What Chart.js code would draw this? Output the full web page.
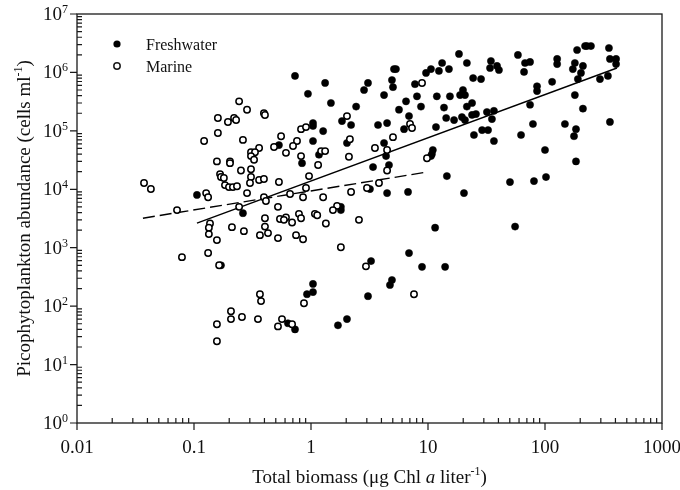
<!DOCTYPE html>
<html><head><meta charset="utf-8">
<script src="https://cdn.jsdelivr.net/npm/chart.js@4/dist/chart.umd.min.js"></script>
<style>html,body{margin:0;padding:0;background:#fff;}#wrap{width:680px;height:490px;}</style>
</head><body><div id="wrap"><canvas id="c" width="680" height="490"></canvas></div>
<script>
// ---- data ----
const freshX = [0.106,0.262,0.942,1.04,1.04,0.532,1.04,1.17,0.838,0.170,1.04,1.04,0.924,0.635,0.730,0.730,1.32,1.48,3.07,2.84,2.43,5.12,5.32,4.92,5.02,4.21,6.49,5.65,6.88,7.74,8.05,8.71,9.62,10.6,12.4,13.2,15.1,18.4,21.5,24.3,11.9,13.7,15.4,18.8,19.9,20.7,23.8,21.5,14.3,16.7,19.5,20.7,23.8,25.7,11.7,24.7,1.27,1.84,2.20,3.74,4.47,6.24,2.03,4.21,4.38,4.64,3.39,11.0,10.8,10.6,14.5,4.47,6.75,20.3,3.19,1.80,1.80,11.5,6.88,3.26,8.89,14.0,4.92,4.73,3.07,2.03,1.70,34.5,33.9,38.9,40.4,58.7,67.5,74.5,66.2,127,127,188,220,228,247,352,180,211,173,203,191,359,405,405,345,295,115,85.5,85.5,28.4,74.5,180,211,31.9,36.6,35.2,29.0,32.6,36.6,62.4,78.9,148,184,177,359,100,184,50.2,80.5,102,55.5];
const freshY = [8000,3900,430000,136000,121000,57000,67000,39000,28000,500,240,174,160,51,40,870000,660000,300000,660000,500000,260000,1140000,1140000,740000,560000,410000,320000,230000,179000,630000,390000,260000,980000,1140000,1060000,1450000,1140000,2070000,1450000,800000,390000,250000,390000,410000,500000,410000,300000,260000,166000,153000,172000,153000,187000,194000,116000,85000,99000,147000,126000,126000,136000,107000,62000,62000,37000,26000,24000,47000,40000,37000,16800,8600,9000,8600,10100,5000,4400,2200,810,590,470,470,280,230,148,60,47,1570000,1190000,1290000,1100000,1990000,1450000,1510000,1020000,1700000,1390000,2420000,2830000,2830000,2830000,2620000,1450000,1290000,1140000,980000,770000,1700000,1700000,1390000,870000,770000,690000,580000,480000,770000,280000,410000,240000,210000,220000,159000,103000,103000,67000,85000,131000,131000,107000,81000,142000,47000,30000,13300,13800,16200,2300];
const marineX = [0.243,0.160,0.195,0.220,0.229,0.160,0.122,0.157,0.203,0.203,0.167,0.170,0.180,0.184,0.199,0.215,0.233,0.0374,0.0428,0.127,0.132,0.0716,0.252,0.284,0.396,0.404,0.262,0.555,0.822,0.906,0.759,0.702,0.483,0.611,0.822,0.360,0.307,0.332,0.307,0.326,0.307,0.307,0.360,0.396,0.301,0.532,0.962,1.15,0.906,0.284,0.662,0.855,0.396,0.412,0.243,0.522,0.404,0.543,0.611,0.587,0.689,0.789,0.822,1.08,1.13,0.404,0.211,0.267,0.366,0.429,0.522,0.745,0.855,0.137,0.134,0.134,0.157,0.0789,0.132,0.164,0.366,0.374,0.871,0.207,0.207,0.257,0.352,0.157,0.565,0.522,0.689,0.157,8.89,2.03,7.02,7.30,5.02,2.15,1.22,1.32,2.11,3.52,4.47,9.80,4.47,3.81,3.01,2.20,1.27,1.67,1.54,1.34,2.57,1.80,2.95,7.59];
const marineY = [320000,166000,142000,166000,153000,92000,67000,30000,30000,28000,18200,16200,15600,11800,10900,10900,11300,12800,10100,8600,7300,4400,21000,230000,200000,187000,70000,81000,107000,116000,67000,55000,53000,42000,37000,51000,43000,43000,37000,32000,22000,16200,14400,15000,12800,13300,16800,26000,10500,8600,8300,7300,7300,6300,5000,5000,3200,3100,3300,3000,2700,3800,3200,3800,3600,2300,2250,1920,1640,1780,1460,1640,1400,2600,2200,1710,1350,690,810,500,160,122,112,82,60,65,60,49,60,45,49,25,660000,179000,131000,112000,78000,72000,45000,45000,36000,51000,47000,34000,21000,12800,10500,9000,7300,5200,4400,2600,3000,1020,480,160];
const solidX = [0.106, 412];
const solidY = [2630, 1190000];
const dashX = [0.0366, 9.8];
const dashY = [3200, 19700];
const xTickValues = [0.01, 0.1, 1, 10, 100, 1000];
const xTickLabels = ['0.01', '0.1', '1', '10', '100', '1000'];
const yTickValues = [1, 10, 100, 1000, 10000, 100000, 1000000, 10000000];
const yTickExps = ['0', '1', '2', '3', '4', '5', '6', '7'];
const legendLabels = ['Freshwater', 'Marine'];

const pts = (xs, ys) => xs.map((x, i) => ({x: x, y: ys[i]}));
const SERIF = '"Liberation Serif", "DejaVu Serif", serif';

function drawRich(ctx, parts, x, y, align) {
  let w = 0;
  parts.forEach(p => { ctx.font = p.font; p.w = ctx.measureText(p.t).width; w += p.w; });
  let cx = align === 'center' ? x - w / 2 : (align === 'right' ? x - w : x);
  ctx.textAlign = 'left';
  ctx.textBaseline = 'alphabetic';
  parts.forEach(p => { ctx.font = p.font; ctx.fillText(p.t, cx, y + (p.dy || 0)); cx += p.w; });
}

const axesPlugin = {
  id: 'axesPlugin',
  afterDraw(chart) {
    const ctx = chart.ctx, xs = chart.scales.x, ys = chart.scales.y, a = chart.chartArea;
    ctx.save();
    ctx.strokeStyle = '#1a1a1a';
    ctx.fillStyle = '#111';
    ctx.lineWidth = 1.3;
    ctx.strokeRect(a.left, a.top, a.right - a.left, a.bottom - a.top);
    ctx.lineWidth = 1.2;
    ctx.beginPath();
    xTickValues.forEach((v, i) => {
      const px = xs.getPixelForValue(v);
      ctx.moveTo(px, a.bottom); ctx.lineTo(px, a.bottom + 7);
      if (i < xTickValues.length - 1) {
        for (let k = 2; k <= 9; k++) {
          const mx = xs.getPixelForValue(v * k);
          ctx.moveTo(mx, a.bottom); ctx.lineTo(mx, a.bottom - 5);
        }
      }
    });
    yTickValues.forEach((v, i) => {
      const py = ys.getPixelForValue(v);
      ctx.moveTo(a.left - 7, py); ctx.lineTo(a.left, py);
      if (i < yTickValues.length - 1) {
        for (let k = 2; k <= 9; k++) {
          const my = ys.getPixelForValue(v * k);
          ctx.moveTo(a.left, my); ctx.lineTo(a.left + 5, my);
        }
      }
    });
    ctx.stroke();
    xTickValues.forEach((v, i) => {
      const px = xs.getPixelForValue(v);
      drawRich(ctx, [{t: xTickLabels[i], font: '19px ' + SERIF}], px, a.bottom + 30, 'center');
    });
    yTickValues.forEach((v, i) => {
      const py = ys.getPixelForValue(v);
      drawRich(ctx, [{t: '10', font: '19px ' + SERIF}, {t: yTickExps[i], font: '12px ' + SERIF, dy: -7}], a.left - 9, py + 6, 'right');
    });
    drawRich(ctx, [
      {t: 'Total biomass (\u03bcg Chl ', font: '19px ' + SERIF},
      {t: 'a', font: 'italic 19px ' + SERIF},
      {t: ' liter', font: '19px ' + SERIF},
      {t: '-1', font: '12px ' + SERIF, dy: -8},
      {t: ')', font: '19px ' + SERIF}
    ], (a.left + a.right) / 2, 483, 'center');
    ctx.save();
    ctx.translate(30, (a.top + a.bottom) / 2);
    ctx.rotate(-Math.PI / 2);
    drawRich(ctx, [
      {t: 'Picophytoplankton abundance (cells ml', font: '19px ' + SERIF},
      {t: '-1', font: '12px ' + SERIF, dy: -8},
      {t: ')', font: '19px ' + SERIF}
    ], 0, 0, 'center');
    ctx.restore();
    const lx = 117, ly = [44, 66];
    ctx.lineWidth = 1.5;
    ctx.beginPath(); ctx.arc(lx, ly[0], 3.6, 0, Math.PI * 2); ctx.fillStyle = '#000'; ctx.fill();
    ctx.beginPath(); ctx.arc(lx, ly[1], 3.2, 0, Math.PI * 2); ctx.fillStyle = '#fff'; ctx.fill(); ctx.stroke();
    ctx.fillStyle = '#111';
    drawRich(ctx, [{t: legendLabels[0], font: '16px ' + SERIF}], 146, ly[0] + 6, 'left');
    drawRich(ctx, [{t: legendLabels[1], font: '16px ' + SERIF}], 146, ly[1] + 6, 'left');
    ctx.restore();
  }
};

new Chart(document.getElementById('c'), {
  type: 'scatter',
  data: {
    datasets: [
      {label: 'Marine', data: pts(marineX, marineY), pointRadius: 3.2, pointBackgroundColor: '#fff', pointBorderColor: '#000', pointBorderWidth: 1.5, showLine: false},
      {label: 'Freshwater', data: pts(freshX, freshY), pointRadius: 3.6, pointBackgroundColor: '#000', pointBorderColor: '#000', pointBorderWidth: 0.5, showLine: false},
      {label: 'Freshwater fit', data: pts(solidX, solidY), showLine: true, pointRadius: 0, borderColor: '#000', borderWidth: 1.4, fill: false},
      {label: 'Marine fit', data: pts(dashX, dashY), showLine: true, pointRadius: 0, borderColor: '#000', borderWidth: 1.4, borderDash: [12, 5], fill: false}
    ]
  },
  options: {
    responsive: false,
    animation: false,
    devicePixelRatio: 1,
    layout: {padding: {left: 0, right: 18, top: 14, bottom: 0}},
    plugins: {legend: {display: false}, tooltip: {enabled: false}},
    scales: {
      x: {type: 'logarithmic', min: 0.01, max: 1000,
          ticks: {display: false}, grid: {display: false}, border: {display: false},
          afterFit: s => { s.height = 67; }},
      y: {type: 'logarithmic', min: 1, max: 10000000,
          ticks: {display: false}, grid: {display: false}, border: {display: false},
          afterFit: s => { s.width = 77; }}
    }
  },
  plugins: [axesPlugin]
});
</script>
</body></html>
